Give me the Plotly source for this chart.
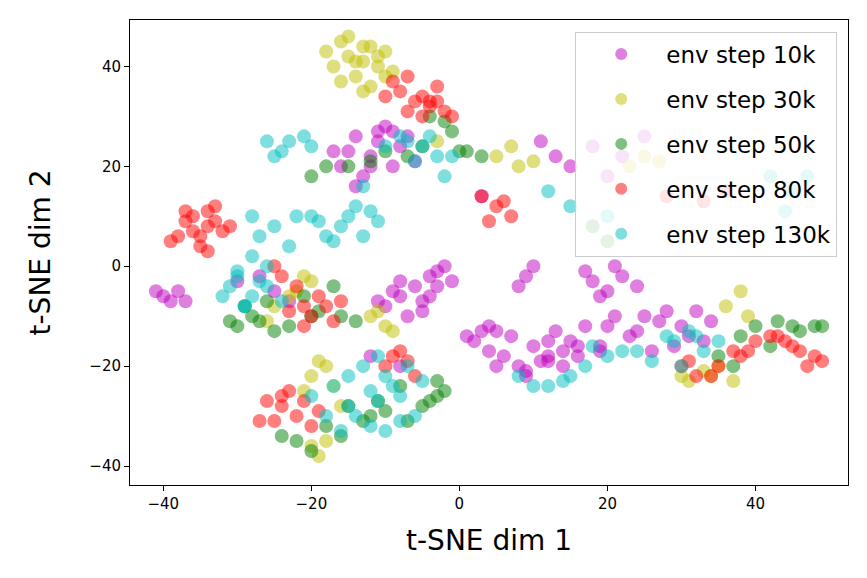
import plotly.graph_objects as go

m_x=[-12,-14,-10,-8,-16,-13,-11,-9,-15,-6,-10,-8,-6,-4,-2,-7,-5,-3,-9,-4,-40,-38,-39,2,4,6,8,10,5,12,15,20,25,30,33,20,22,18,10,8,24,27,16,14,12,15,18,20,22,-25,-30,-12,-8,3,28,31,13,11,
     -14,-12,-17,-11,-7,-9,-3,-1,-5,-8,-11,3,5,7,9,11,13,17,19,21,23,26,29,32,34,17,19,21,24,9,12,14,16,19,25,-41,-37,-27,-23,1,4,9]
m_y=[22,26,28,24,20,18,25,27,23,21,-8,-6,-4,-2,0,-10,-7,-4,-5,-6,-6,-5,-7,-15,-17,-18,-20,-16,-13,-15,-15,-12,-10,-12,-15,-5,-2,-3,0,-4,-13,-11,-18,-17,-19,20,24,18,22,-5,-3,-18,-20,14,-9,-14,22,25,
     16,20,23,27,26,20,-1,-3,-9,-3,-7,-13,-20,-14,-22,-19,-13,-12,-16,-10,-14,-17,-16,-9,-11,-1,-6,0,-4,-2,-18,-20,-16,-17,26,-5,-7,-2,-7,-14,-12,-21]
y_x=[-15,-13,-11,-14,-17,-10,-12,-16,-9,-25,-22,-20,-20,-18,-19,-18,-12,-10,30,35,38,36,5,8,25,-3,-13,33,-21,
     -16,-14,-12,-10,-13,-15,-11,-18,-23,-21,-19,-17,-20,-11,-9,31,34,37,39,7,10,23,27,-26,-16]
y_y=[42,44,40,38,40,43,36,45,39,-8,-5,-3,-22,-20,-38,-35,-10,-12,-22,-20,-5,-8,22,20,22,25,41,-21,-25,
     37,41,44,38,35,46,42,43,-6,-2,-19,-24,-36,-9,-13,-23,-22,-23,-10,24,21,20,21,-11,-28]
g_x=[-28,-30,-25,-20,-16,-17,-22,-18,-15,-12,-5,-3,-8,-20,-15,-10,-5,0,3,-4,-1,40,45,48,35,42,20,18,-24,-26,
     -29,-27,-23,-19,-14,-20,-16,-13,-10,-7,-4,-2,-18,-12,-7,-2,1,38,43,46,49,37,-31,-21,-11,-3]
g_y=[-10,-12,-13,-10,-10,-4,-35,-32,-28,-30,-28,-26,-24,18,20,23,24,23,22,30,27,-12,-12,-12,-18,-16,5,8,-34,-7,
     -8,-11,-12,-9,-11,-37,-34,-31,-29,-31,-27,-25,20,21,22,29,23,-14,-11,-13,-12,-20,-11,-6,-27,-23]
r_x=[-36,-38,-34,-33,-35,-32,-37,-25,-22,-20,-18,-16,-21,-24,-22,-23,-20,-10,-8,-6,-8,-6,-4,-2,-9,-3,-5,5,7,3,28,33,36,32,35,38,40,45,48,42,-34,-27,
     -39,-37,-35,-33,-36,-34,-31,-24,-19,-17,-23,-21,-25,-24,-21,-19,-9,-7,-10,-7,-5,-3,-1,-7,-4,4,6,30,34,31,37,39,43,47,49,44,46,-26]
r_y=[10,6,8,12,4,7,9,0,-4,-10,-8,-7,-12,-28,-30,-25,-32,-20,-17,-22,35,33,32,31,37,36,34,12,10,14,14,13,15,-22,-20,-18,-15,-16,-18,-14,11,-31,
     5,11,6,9,7,3,8,-2,-6,-11,-9,-8,-31,-26,-27,-29,-18,-19,34,38,30,33,30,31,33,9,13,-20,-22,-19,-17,-17,-14,-20,-19,-15,-17,-27]
c_x=[-23,-20,-25,-10,-7,-4,-3,-2,-14,-16,-13,-18,-11,-30,-28,-26,-32,-28,-25,-28,-22,-15,-12,-10,-8,-14,-10,-6,-16,-20,-7,8,12,15,20,24,28,32,35,30,12,15,20,42,45,47,-5,-29,-11,
     -24,-21,-8,-6,-1,-15,-12,-17,-19,-31,-27,-29,-24,-26,-23,-20,-30,-27,-13,-11,-9,-12,-8,-15,-17,-18,-5,10,14,17,22,26,29,33,31,18,44,-13,-26]
c_y=[25,24,22,24,25,26,22,18,12,8,6,6,9,-2,-6,-4,-6,2,8,10,10,-22,-25,-22,-26,-30,-33,-30,-33,-26,-20,-22,-24,-22,-18,-17,-14,-14,-15,-20,15,12,10,18,15,18,24,-8,-18,
     23,26,26,21,22,10,11,5,9,-4,-3,-8,-7,0,4,10,-1,6,-20,-27,-24,-32,-31,-28,-24,-30,-23,-24,-23,-20,-17,-19,-15,-17,-13,-16,11,16,25,3]

series=[("env step 10k",m_x,m_y,"rgba(191,0,191,0.5)"),("env step 30k",y_x,y_y,"rgba(191,191,0,0.5)"),
("env step 50k",g_x,g_y,"rgba(0,128,0,0.5)"),("env step 80k",r_x,r_y,"rgba(255,0,0,0.5)"),("env step 130k",c_x,c_y,"rgba(0,191,191,0.5)")]
fig=go.Figure()
for n,x,y,c in series:
    fig.add_trace(go.Scatter(x=x,y=y,mode="markers",name=n,legendgroup=n,marker=dict(color=c,size=14,line=dict(width=0))))
ax=dict(showgrid=False,zeroline=False,showline=True,mirror=True,linecolor="black",ticks="outside",tickcolor="black",
        tickfont=dict(size=15,color="black"),title_font=dict(size=28,color="black"),automargin=False)
fig.update_layout(width=867,height=578,margin=dict(l=122,r=27,t=12,b=101),paper_bgcolor="white",plot_bgcolor="white",
  font=dict(family="DejaVu Sans"),
  xaxis=dict(ax,range=[-44.5,52.5],tickvals=[-40,-20,0,20,40],title=dict(text="t-SNE dim 1",standoff=18)),
  yaxis=dict(ax,range=[-43.8,49.3],tickvals=[-40,-20,0,20,40],title=dict(text="t-SNE dim 2",standoff=30)),
  legend=dict(x=0.985,y=0.975,xanchor="right",yanchor="top",bgcolor="rgba(255,255,255,0.8)",bordercolor="#ccc",borderwidth=1,
              font=dict(size=23,color="black"),itemsizing="constant",tracegroupgap=12,itemwidth=80))
fig.write_html("out.html")
